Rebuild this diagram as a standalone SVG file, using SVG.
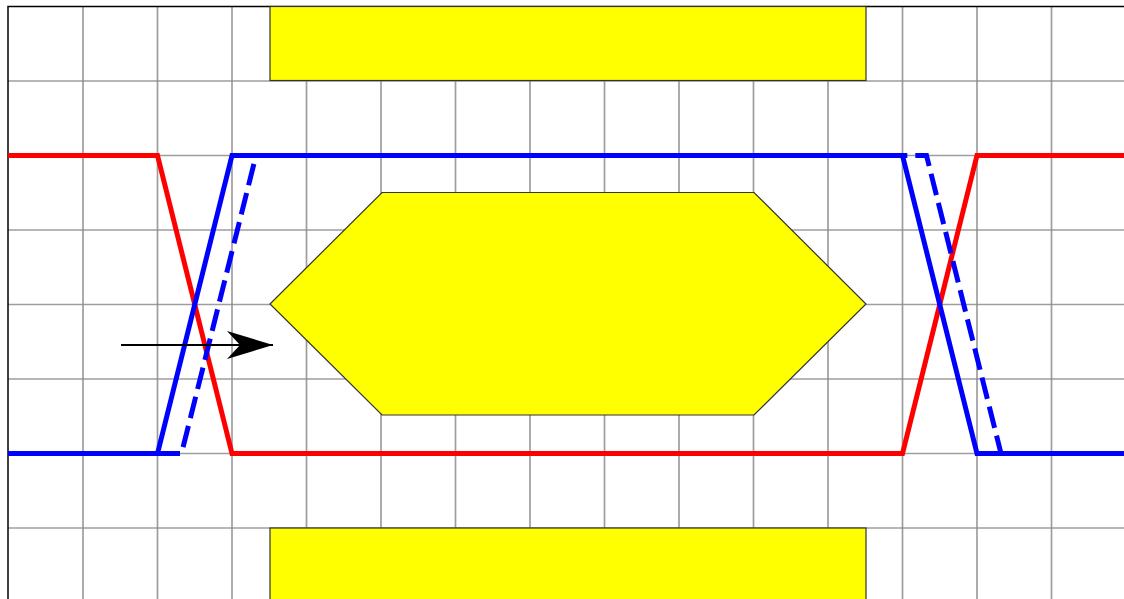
<svg xmlns="http://www.w3.org/2000/svg" width="1124" height="599" viewBox="0 0 1124 599">
<style>
.grid line{stroke:#8c8c8c;stroke-width:1.7;opacity:0.85}
.mask{fill:#ffff00;stroke:#333;stroke-width:1.2}
.sig{fill:none;stroke-width:5;stroke-linejoin:miter}
</style>
<defs>
<marker id="stealth" viewBox="0 0 46 28" refX="46" refY="14" markerWidth="46" markerHeight="28" markerUnits="userSpaceOnUse" orient="auto">
<path d="M0,0 L46,14 L0,28 L13,14 Z" fill="#000"/>
</marker>
</defs>
<rect x="0" y="0" width="1124" height="599" fill="#fff"/>
<g class="grid">
<line x1="83" y1="6.5" x2="83" y2="599"/>
<line x1="157.5" y1="6.5" x2="157.5" y2="599"/>
<line x1="232" y1="6.5" x2="232" y2="599"/>
<line x1="306.5" y1="6.5" x2="306.5" y2="599"/>
<line x1="381" y1="6.5" x2="381" y2="599"/>
<line x1="455.5" y1="6.5" x2="455.5" y2="599"/>
<line x1="530" y1="6.5" x2="530" y2="599"/>
<line x1="604.5" y1="6.5" x2="604.5" y2="599"/>
<line x1="679" y1="6.5" x2="679" y2="599"/>
<line x1="753.5" y1="6.5" x2="753.5" y2="599"/>
<line x1="828" y1="6.5" x2="828" y2="599"/>
<line x1="902.5" y1="6.5" x2="902.5" y2="599"/>
<line x1="977" y1="6.5" x2="977" y2="599"/>
<line x1="1051.5" y1="6.5" x2="1051.5" y2="599"/>
<line x1="8" y1="81" x2="1124" y2="81"/>
<line x1="8" y1="155.5" x2="1124" y2="155.5"/>
<line x1="8" y1="230" x2="1124" y2="230"/>
<line x1="8" y1="304.5" x2="1124" y2="304.5"/>
<line x1="8" y1="379" x2="1124" y2="379"/>
<line x1="8" y1="453.5" x2="1124" y2="453.5"/>
<line x1="8" y1="528" x2="1124" y2="528"/>
</g>
<path d="M8,599 L8,6.5 L1124,6.5" fill="none" stroke="#000" stroke-width="1.5"/>
<g id="mask-top"><rect class="mask" x="270" y="6.5" width="596" height="74"/></g>
<g id="mask-bottom"><rect class="mask" x="270" y="528" width="596" height="75"/></g>
<g id="mask-center"><polygon class="mask" points="270,304 382,192.5 754,192.5 866,304 754,415 382,415"/></g>
<g id="connectors">
<path class="sig" stroke="#ff0000" d="M8,155.5 L157.5,155.5 L232,453.5 L902.5,453.5 L977,155.5 L1124,155.5"/>
<path class="sig" stroke="#0000ff" stroke-dasharray="22 8" d="M8,453.5 L181.5,453.5 L256,155.5 L926.5,155.5 L1001,453.5 L1124,453.5"/>
<path class="sig" stroke="#0000ff" d="M8,453.5 L157.5,453.5 L232,155.5 L902.5,155.5 L977,453.5 L1124,453.5"/>
<line x1="121" y1="345" x2="273" y2="345" stroke="#000" stroke-width="1.8" marker-end="url(#stealth)"/>
</g>
</svg>
